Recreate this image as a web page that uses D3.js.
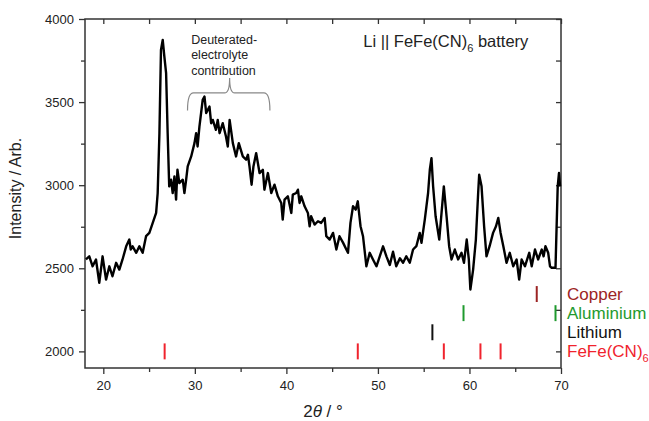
<!DOCTYPE html>
<html lang="en">
<head>
<meta charset="UTF-8">
<title>XRD pattern</title>
<script src="https://d3js.org/d3.v7.min.js"></script>
<style>
  body { margin: 0; background: #fff; }
  svg { font-family: "Liberation Sans", Arial, sans-serif; }
  .axis text { font-size: 13px; fill: #222; }
  .axis line { stroke: #333; stroke-width: 1.3; }
</style>
</head>
<body>
<script>
// diffraction pattern
const twoTheta = [18.1, 18.47, 18.83, 19.2, 19.56, 19.92, 20.3, 20.66, 21.0, 21.4, 21.75, 22.1, 22.5, 22.84, 23.0, 23.2, 23.6, 23.94, 24.3, 24.67,
  25.03, 25.4, 25.77, 25.94, 26.13, 26.3, 26.49, 26.67, 26.86, 27.03, 27.2, 27.4, 27.58, 27.77, 27.95, 28.1, 28.3, 28.68, 28.86, 29.05,
  29.22, 29.6, 29.96, 30.14, 30.3, 30.5, 30.86, 31.05, 31.24, 31.6, 31.78, 31.96, 32.3, 32.5, 32.7, 33.05, 33.4, 33.6, 33.8, 34.15,
  34.5, 34.8, 35.24, 35.6, 35.8, 35.97, 36.2, 36.4, 36.7, 37.07, 37.43, 37.6, 37.98, 38.35, 38.7, 39.07, 39.44, 39.6, 39.8, 40.16,
  40.54, 40.7, 41.08, 41.26, 41.44, 41.63, 41.99, 42.35, 42.54, 42.7, 43.08, 43.45, 43.8, 44.18, 44.36, 44.73, 45.1, 45.46, 45.8, 46.2,
  46.55, 46.73, 47.0, 47.28, 47.57, 47.8, 48.1, 48.37, 48.74, 49.1, 49.46, 49.84, 50.2, 50.56, 50.93, 51.3, 51.65, 52.0, 52.4, 52.75,
  53.1, 53.48, 53.84, 54.2, 54.57, 54.76, 55.12, 55.48, 55.67, 55.85, 56.03, 56.3, 56.7, 56.95, 57.2, 57.5, 57.78, 58.04, 58.4, 58.76,
  59.13, 59.4, 59.7, 59.93, 60.1, 60.4, 60.7, 60.95, 61.06, 61.32, 61.6, 61.86, 62.2, 62.58, 62.9, 63.15, 63.4, 63.7, 64.05, 64.4,
  64.78, 65.15, 65.43, 65.7, 66.06, 66.53, 66.8, 67.16, 67.5, 67.9, 68.1, 68.3, 68.6, 68.8, 68.98, 69.4, 69.64, 69.78, 69.9];
const intensity = [2553, 2572, 2512, 2553, 2413, 2572, 2432, 2512, 2452, 2533, 2492, 2553, 2632, 2673, 2613, 2632, 2593, 2632, 2593, 2693,
  2713, 2773, 2833, 2953, 3313, 3814, 3874, 3774, 3674, 3313, 2993, 3033, 2953, 3053, 2913, 3093, 3013, 3033, 2953, 3033,
  3113, 3173, 3253, 3313, 3233, 3353, 3514, 3534, 3434, 3473, 3373, 3393, 3333, 3393, 3313, 3373, 3293, 3233, 3393, 3253,
  3173, 3253, 3173, 3153, 3183, 3113, 3003, 3113, 3193, 3073, 3093, 2973, 3073, 2953, 3003, 2933, 2893, 2793, 2913, 2933,
  2833, 2943, 2953, 2973, 2893, 2933, 2873, 2833, 2753, 2813, 2763, 2783, 2773, 2803, 2693, 2673, 2713, 2613, 2693, 2653,
  2613, 2593, 2773, 2873, 2853, 2903, 2753, 2693, 2512, 2593, 2553, 2512, 2572, 2632, 2572, 2520, 2600, 2512, 2560, 2533,
  2572, 2533, 2613, 2633, 2713, 2653, 2793, 2953, 3093, 3163, 2993, 2813, 2673, 2833, 2993, 2813, 2633, 2553, 2613, 2553,
  2593, 2533, 2673, 2553, 2372, 2492, 2673, 2953, 3063, 2993, 2753, 2572, 2633, 2713, 2753, 2803, 2713, 2633, 2533, 2593,
  2512, 2553, 2432, 2553, 2512, 2593, 2512, 2613, 2553, 2613, 2572, 2633, 2593, 2512, 2503, 2503, 2993, 3073, 2993];

// reference reflections
const phaseNames = ["FeFe(CN)", "Lithium", "Aluminium", "Copper"];
const phaseLevels = [2000, 2115, 2230, 2345];
const phasePeaks = [
  [26.7, 47.8, 57.2, 61.2, 63.4],
  [55.95],
  [59.35, 69.4],
  [67.35]
];
const phaseColors = ["#f0232d", "#111111", "#1f9a2e", "#9c2424"];

const xTicks = [20, 30, 40, 50, 60, 70];
const xMinor = [25, 35, 45, 55, 65];
const yTicks = [2000, 2500, 3000, 3500, 4000];
const yMinor = [2250, 2750, 3250, 3750];

const width = 649, height = 421;
const margin = { top: 19, right: 88, bottom: 53, left: 85 };
const w = width - margin.left - margin.right;
const h = height - margin.top - margin.bottom;

const svg = d3.select("body").append("svg")
  .attr("width", width)
  .attr("height", height);

const g = svg.append("g").attr("transform", `translate(${margin.left},${margin.top})`);

const x = d3.scaleLinear().domain([18, 70]).range([0, w]);
const y = d3.scaleLinear().domain([1900, 4000]).range([h, 0]);

// axes, ticks on all four sides
function addAxis(axis, tx, ty) {
  const a = g.append("g").attr("class", "axis")
    .attr("transform", `translate(${tx},${ty})`)
    .call(axis);
  a.select(".domain").remove();
  return a;
}
addAxis(d3.axisBottom(x).tickValues(xTicks).tickSize(6).tickPadding(7).tickFormat(d3.format("d")), 0, h);
addAxis(d3.axisBottom(x).tickValues(xMinor).tickSize(4).tickFormat(""), 0, h);
addAxis(d3.axisBottom(x).tickValues(xTicks.concat(xMinor)).tickSize(5).tickFormat(""), 0, 0);
addAxis(d3.axisLeft(y).tickValues(yTicks).tickSize(6).tickPadding(5).tickFormat(d3.format("d")), 0, 0);
addAxis(d3.axisLeft(y).tickValues(yMinor).tickSize(4).tickFormat(""), 0, 0);
addAxis(d3.axisLeft(y).tickValues(yTicks.concat(yMinor)).tickSize(5).tickFormat(""), w, 0);

g.append("rect")
  .attr("width", w).attr("height", h)
  .attr("fill", "none").attr("stroke", "#333").attr("stroke-width", 1.5);

// pattern
const line = d3.line()
  .x((d, i) => x(twoTheta[i]))
  .y(d => y(d));

g.append("path")
  .datum(intensity)
  .attr("fill", "none")
  .attr("stroke", "#000")
  .attr("stroke-width", 2.4)
  .attr("stroke-linejoin", "round")
  .attr("d", line);

// reflection markers
phasePeaks.forEach((peaks, k) => {
  g.selectAll(null)
    .data(peaks)
    .join("line")
    .attr("x1", d => x(d)).attr("x2", d => x(d))
    .attr("y1", y(phaseLevels[k] - 48)).attr("y2", y(phaseLevels[k] + 48))
    .attr("stroke", phaseColors[k])
    .attr("stroke-width", 2);

  const t = g.append("text")
    .attr("x", w + 6)
    .attr("y", y(phaseLevels[k]))
    .attr("dy", "0.35em")
    .attr("fill", phaseColors[k])
    .style("font-size", "17px")
    .text(phaseNames[k]);
  if (k === 0) {
    t.append("tspan").attr("dy", "0.4em").style("font-size", "11px").text("6");
  }
});

// annotations
const note = g.append("text")
  .attr("x", x(29.6))
  .style("font-size", "12.5px")
  .attr("fill", "#222");
["Deuterated-", "electrolyte", "contribution"].forEach((s, i) => {
  note.append("tspan").attr("x", x(29.6)).attr("y", y(3850) + i * 15.5).text(s);
});

const bx0 = x(29.2), bx1 = x(38.2), bxm = x(33.8);
const byEnd = y(3450), byMid = y(3555), byTip = y(3645);
g.append("path")
  .attr("d", `M${bx0},${byEnd} Q${bx0},${byMid} ${bx0 + 6},${byMid} L${bxm - 5},${byMid} Q${bxm},${byMid} ${bxm},${byTip}` +
             ` Q${bxm},${byMid} ${bxm + 5},${byMid} L${bx1 - 6},${byMid} Q${bx1},${byMid} ${bx1},${byEnd}`)
  .attr("fill", "none")
  .attr("stroke", "#888")
  .attr("stroke-width", 1.2);

const title = g.append("text")
  .attr("x", x(48.4))
  .attr("y", y(3830))
  .attr("fill", "#222")
  .style("font-size", "16.5px")
  .text("Li || FeFe(CN)");
title.append("tspan").attr("dy", "0.4em").style("font-size", "11px").text("6");
title.append("tspan").attr("dy", "-0.27em").text(" battery");

// axis titles
svg.append("text")
  .attr("x", margin.left + w / 2)
  .attr("y", 417)
  .attr("text-anchor", "middle")
  .attr("fill", "#222")
  .style("font-size", "17px")
  .html('2<tspan font-style="italic">θ</tspan> / °');

svg.append("text")
  .attr("transform", `translate(21,${margin.top + h / 2 - 5}) rotate(-90)`)
  .attr("text-anchor", "middle")
  .attr("fill", "#222")
  .style("font-size", "16px")
  .text("Intensity / Arb.");
</script>
</body>
</html>
